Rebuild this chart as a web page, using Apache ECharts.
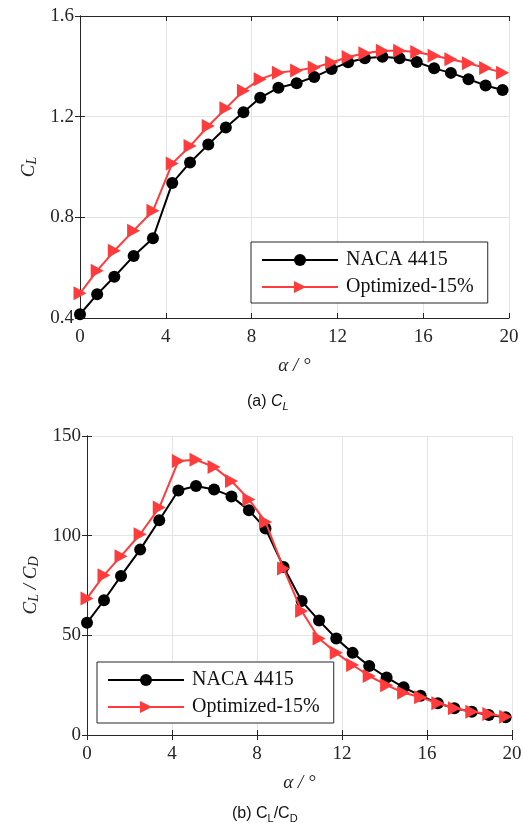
<!DOCTYPE html>
<html>
<head>
<meta charset="utf-8">
<script src="https://cdn.jsdelivr.net/npm/echarts@6/dist/echarts.min.js"></script>
<style>
html,body{margin:0;padding:0;background:#fff;}
#c{width:524px;height:823px;}
</style>
</head>
<body>
<div id="c"></div>
<script>
// angle of attack (deg)
const alpha = [0, 0.8, 1.6, 2.5, 3.4, 4.3, 5.13, 5.98, 6.8, 7.62, 8.4, 9.25, 10.1, 10.92, 11.73, 12.5, 13.28, 14.1, 14.9, 15.7, 16.51, 17.29, 18.11, 18.91, 19.7];
// (a) lift coefficient
const clNaca = [0.415, 0.494, 0.564, 0.646, 0.717, 0.936, 1.018, 1.089, 1.157, 1.218, 1.275, 1.315, 1.333, 1.358, 1.389, 1.416, 1.432, 1.438, 1.432, 1.417, 1.392, 1.374, 1.349, 1.324, 1.306];
const clOpt = [0.498, 0.588, 0.667, 0.747, 0.826, 1.014, 1.083, 1.163, 1.233, 1.303, 1.349, 1.375, 1.383, 1.395, 1.415, 1.437, 1.452, 1.462, 1.462, 1.457, 1.442, 1.428, 1.412, 1.393, 1.375];
// (b) lift-to-drag ratio
const ldNaca = [56.3, 67.6, 79.8, 93.0, 107.7, 122.7, 124.9, 123.2, 119.7, 112.7, 103.6, 84.3, 67.2, 57.4, 48.4, 41.2, 34.6, 28.9, 23.9, 19.7, 15.9, 13.4, 11.7, 10.0, 8.9];
const ldOpt = [68.5, 80.2, 89.7, 100.7, 114.1, 137.4, 138.1, 134.4, 127.4, 118.2, 106.9, 83.5, 62.2, 48.4, 41.2, 35.1, 29.6, 25.0, 21.2, 18.9, 15.9, 13.4, 11.7, 10.5, 9.2];
// axis ticks
const xTicks = {min: 0, max: 20, interval: 4};
const yTicksA = {min: 0.4, max: 1.6, interval: 0.4};
const yTicksB = {min: 0, max: 150, interval: 50};
const seriesNames = ['NACA 4415', 'Optimized-15%'];

const pairs = (ys) => alpha.map((a, i) => [a, ys[i]]);
const SERIF = '"Liberation Serif", "Times New Roman", serif';
const SANS = '"Liberation Sans", Arial, sans-serif';
const AX = '#262626';
const GRIDC = '#e4e4e4';
const RED = '#ff3b3b';

function xAx(gi, pos, name) {
  return {
    type: 'value', gridIndex: gi, position: pos, ...xTicks,
    name: name || '', nameLocation: 'middle', nameGap: 38,
    nameTextStyle: {fontFamily: SERIF, fontStyle: 'italic', fontSize: 19, color: AX},
    axisLine: {show: true, lineStyle: {color: AX, width: 1}},
    axisTick: {show: true, inside: true, length: 5, lineStyle: {color: AX}},
    axisLabel: {show: pos === 'bottom', margin: 10, fontFamily: SERIF, fontSize: 19, color: AX},
    splitLine: {show: pos === 'bottom', lineStyle: {color: GRIDC, width: 1}}
  };
}
function yAx(gi, pos, ticks, name, gap, fmt) {
  return {
    type: 'value', gridIndex: gi, position: pos, ...ticks,
    name: name || '', nameLocation: 'middle', nameGap: gap, nameRotate: 90,
    nameTextStyle: {
      fontFamily: SERIF, color: AX,
      rich: {
        c: {fontFamily: SERIF, fontStyle: 'italic', fontSize: 19, color: AX, lineHeight: 20, verticalAlign: 'top'},
        s: {fontFamily: SERIF, fontStyle: 'italic', fontSize: 14, color: AX, lineHeight: 14, verticalAlign: 'bottom', padding: [24, 0, 0, 0]},
        t: {fontFamily: SERIF, fontStyle: 'italic', fontSize: 19, color: AX, lineHeight: 20, verticalAlign: 'top'}
      }
    },
    axisLine: {show: true, lineStyle: {color: AX, width: 1}},
    axisTick: {show: true, inside: true, length: 5, lineStyle: {color: AX}},
    axisLabel: {show: pos === 'left', margin: 6, fontFamily: SERIF, fontSize: 19, color: AX, formatter: fmt},
    splitLine: {show: pos === 'left', lineStyle: {color: GRIDC, width: 1}}
  };
}
function lineSeries(name, xi, yi, ys, isOpt) {
  return {
    name: name, type: 'line', xAxisIndex: xi, yAxisIndex: yi,
    data: pairs(ys),
    symbol: isOpt ? 'triangle' : 'circle',
    symbolSize: isOpt ? [14, 13] : 12,
    symbolRotate: isOpt ? -90 : 0,
    showAllSymbol: true,
    color: isOpt ? RED : '#000',
    itemStyle: {color: isOpt ? RED : '#000'},
    lineStyle: {color: isOpt ? RED : '#000', width: 2},
    animation: false, z: isOpt ? 3 : 2
  };
}
function legend(left, top, pad) {
  return {
    data: seriesNames, orient: 'vertical', left: left, top: top,
    padding: pad, itemGap: 7, itemWidth: 76, itemHeight: 15,
    borderColor: AX, borderWidth: 1, backgroundColor: '#fff',
    textStyle: {fontFamily: SERIF, fontSize: 20, color: '#111', padding: [0, 0, 0, 3]},
    selectedMode: false
  };
}

const chart = echarts.init(document.getElementById('c'), null, {renderer: 'canvas'});
chart.setOption({
  animation: false,
  backgroundColor: '#fff',
  grid: [
    {left: 80, right: 15, top: 16, height: 302, containLabel: false, outerBoundsMode: 'none'},
    {left: 87, right: 12, top: 436, height: 299, containLabel: false, outerBoundsMode: 'none'}
  ],
  xAxis: [xAx(0, 'bottom', 'α / °'), xAx(0, 'top'), xAx(1, 'bottom', 'α / °'), xAx(1, 'top')],
  yAxis: [
    yAx(0, 'left', yTicksA, '{c|C}{s|L}', 36, v => v.toFixed(1)),
    yAx(0, 'right', yTicksA),
    yAx(1, 'left', yTicksB, '{c|C}{s|L}{t| / C}{s|D}', 40),
    yAx(1, 'right', yTicksB)
  ],
  legend: [legend(251, 242, [8, 14, 6, 10]), legend(97, 662, [8, 14, 6, 10])],
  series: [
    lineSeries(seriesNames[0], 0, 0, clNaca, false),
    lineSeries(seriesNames[1], 0, 0, clOpt, true),
    lineSeries(seriesNames[0], 2, 2, ldNaca, false),
    lineSeries(seriesNames[1], 2, 2, ldOpt, true)
  ],
  graphic: [
    {type: 'text', left: 247, top: 391, style: {
      text: '{n|(a) }{i|C}{j|L}',
      rich: {
        n: {fontFamily: SANS, fontSize: 16, fill: '#111', verticalAlign: 'top', lineHeight: 18},
        i: {fontFamily: SANS, fontSize: 16, fontStyle: 'italic', fill: '#111', verticalAlign: 'top', lineHeight: 18},
        j: {fontFamily: SANS, fontSize: 11, fontStyle: 'italic', fill: '#111', verticalAlign: 'bottom', lineHeight: 11, padding: [10, 0, 0, 0]}
      }
    }},
    {type: 'text', left: 232, top: 803, style: {
      text: '{n|(b) C}{j|L}{n|/C}{j|D}',
      rich: {
        n: {fontFamily: SANS, fontSize: 16, fill: '#111', verticalAlign: 'top', lineHeight: 18},
        j: {fontFamily: SANS, fontSize: 11, fill: '#111', verticalAlign: 'bottom', lineHeight: 11, padding: [10, 0, 0, 0]}
      }
    }}
  ]
});
</script>
</body>
</html>
